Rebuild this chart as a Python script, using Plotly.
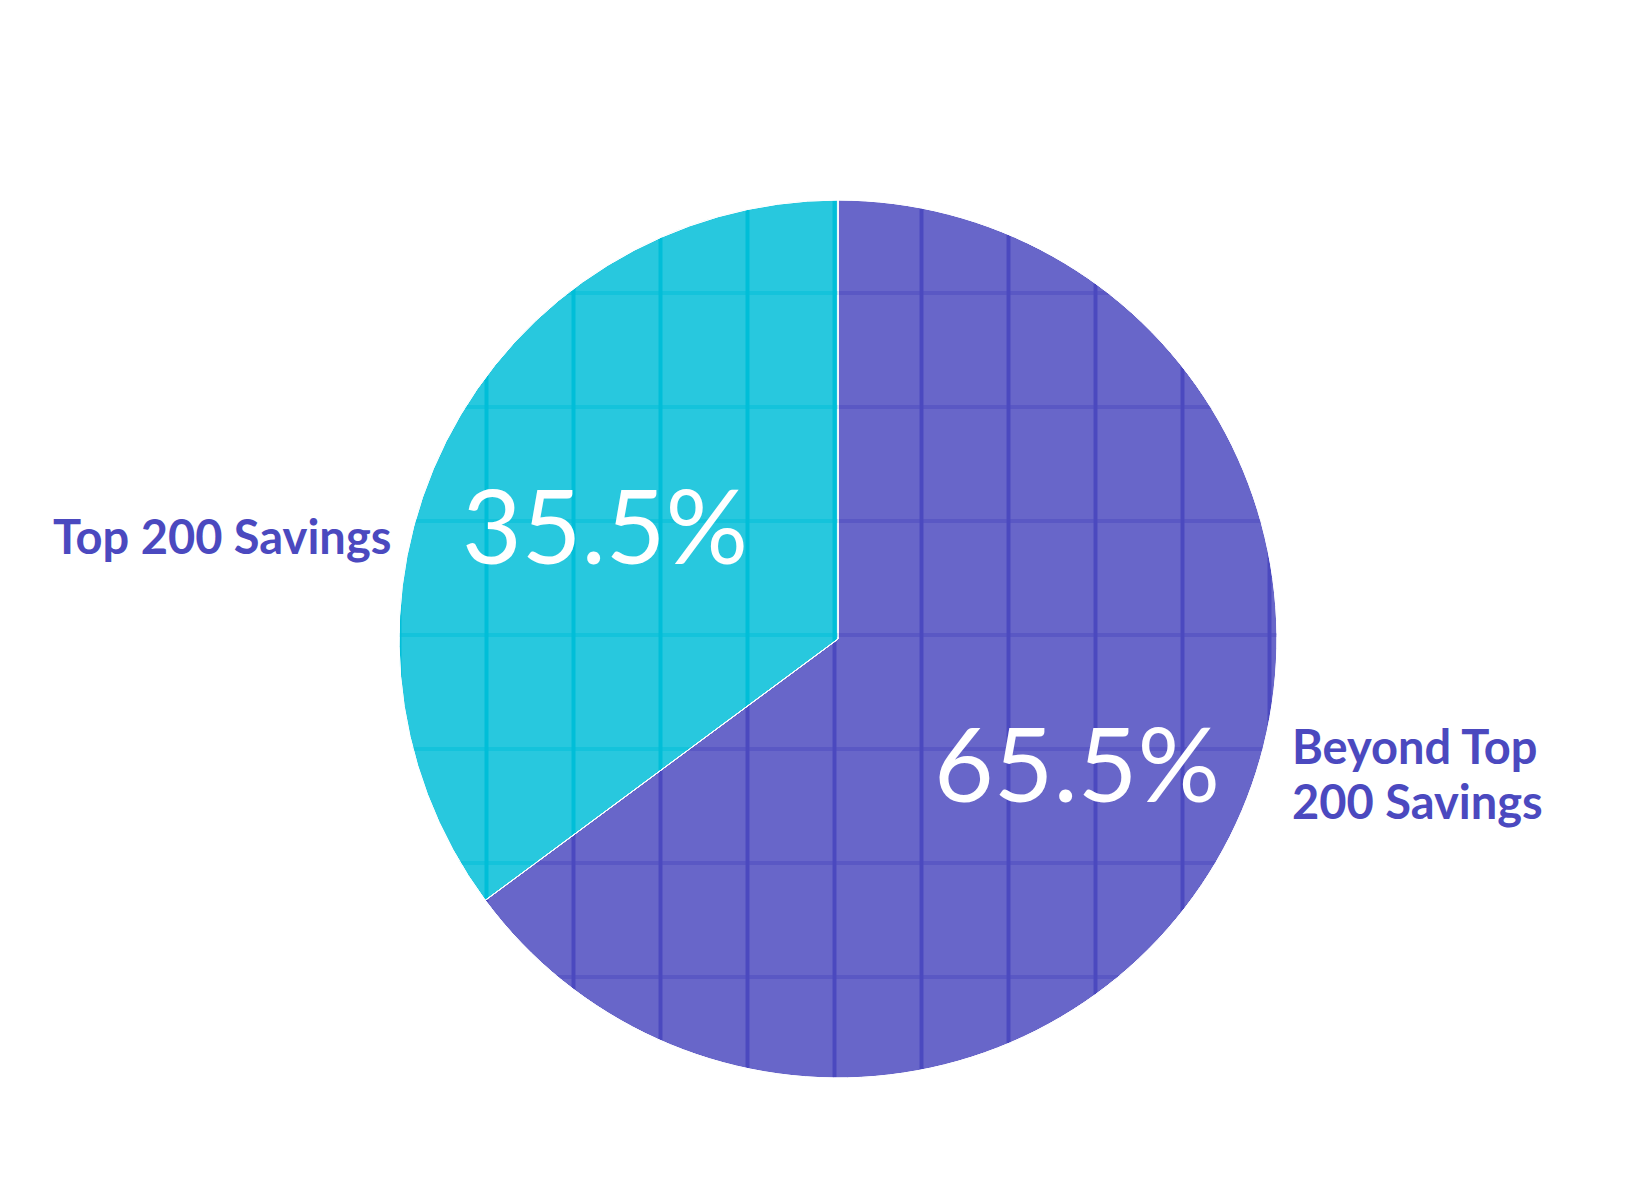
import plotly.graph_objects as go

# slice data
labels = ["Top 200 Savings", "Beyond Top 200 Savings"]
values = [35.5, 65.5]
pct_text = ["35.5%", "65.5%"]
light = ["#28C8DE", "#6866C9"]
dark = ["#00BED8", "#4B49BF"]

W, H = 1641, 1200
cx, cy, r = 830, 631, 439

# plotly puts the first slice right of 12 o'clock, so feed it reversed
# to get "Top 200" on the left-hand side like the original
lab = labels[::-1]
val = values[::-1]
col = light[::-1]
dcol = dark[::-1]

dom = dict(x=[(cx - r) / W, (cx + r) / W],
           y=[(H - cy - r) / H, (H - cy + r) / H])

fig = go.Figure()

# base pie with vertical grid lines
fig.add_trace(go.Pie(
    labels=lab, values=val, sort=False, direction="clockwise",
    domain=dom, textinfo="none", hoverinfo="label+value",
    marker=dict(colors=col, line=dict(color="white", width=1),
                pattern=dict(shape="|", size=87, solidity=0.046,
                             fgcolor=dcol, bgcolor=col, fillmode="replace")),
    showlegend=False,
))
# second pie on top, only horizontal lines
fig.add_trace(go.Pie(
    labels=lab, values=val, sort=False, direction="clockwise",
    domain=dom, textinfo="none", hoverinfo="skip",
    marker=dict(colors=["rgba(0,0,0,0)"] * 2, line=dict(color="white", width=1),
                pattern=dict(shape="-", size=114, solidity=0.035,
                             fgcolor=dcol, bgcolor=["rgba(0,0,0,0)"] * 2,
                             fillmode="overlay")),
    showlegend=False,
))

purple = "#4B49BF"
lab_font = dict(family="Lato", size=47, color=purple, weight="bold")
pct_font = dict(family="Lato", size=103, color="white")

fig.add_annotation(x=385 / W, y=(H - 528) / H, xref="paper", yref="paper",
                   text=labels[0], showarrow=False, xanchor="right", yanchor="middle",
                   font=lab_font)
fig.add_annotation(x=1282 / W, y=(H - 738) / H, xref="paper", yref="paper",
                   text="Beyond Top", showarrow=False, xanchor="left",
                   yanchor="middle", font=lab_font)
fig.add_annotation(x=1282 / W, y=(H - 793) / H, xref="paper", yref="paper",
                   text="200 Savings", showarrow=False, xanchor="left",
                   yanchor="middle", font=lab_font)
fig.add_annotation(x=597 / W, y=(H - 516) / H, xref="paper", yref="paper",
                   text=pct_text[0], showarrow=False, xanchor="center", yanchor="middle",
                   font=pct_font)
fig.add_annotation(x=1069 / W, y=(H - 754) / H, xref="paper", yref="paper",
                   text=pct_text[1], showarrow=False, xanchor="center", yanchor="middle",
                   font=pct_font)

fig.update_layout(width=W, height=H, margin=dict(l=0, r=0, t=0, b=0),
                  paper_bgcolor="white", plot_bgcolor="white")

fig.write_html("out.html")
